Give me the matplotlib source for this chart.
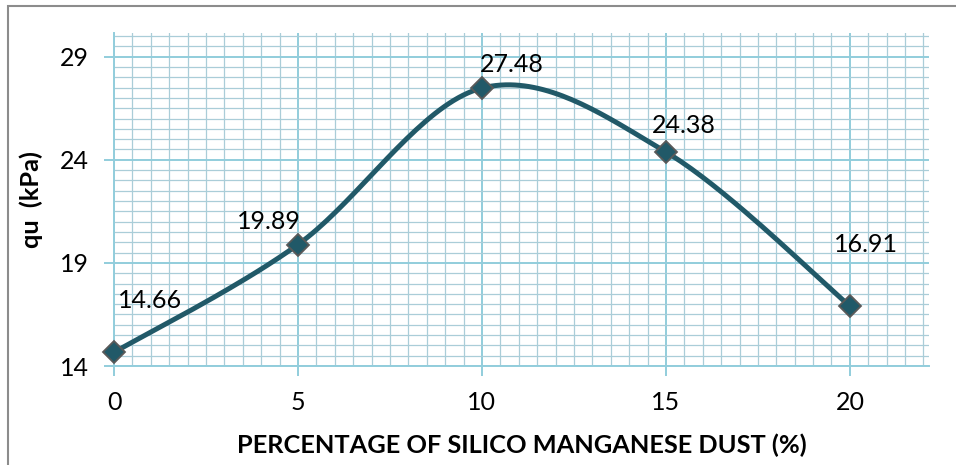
import numpy as np
import matplotlib.pyplot as plt
from matplotlib.patches import Rectangle
from matplotlib.ticker import MultipleLocator

# data
percent = [0, 5, 10, 15, 20]
qu = [14.66, 19.89, 27.48, 24.38, 16.91]
labels = ["14.66", "19.89", "27.48", "24.38", "16.91"]
# label anchor (pixels from the marker): x of text centre, baseline height
label_offsets = [(36, 44), (-29, 16), (30, 16), (18, 19), (16, 54)]

plt.rcParams['font.family'] = ['Lato', 'DejaVu Sans']


def excel_smooth(x, y, sx, sy, n=40):
    # bezier smoothing like Excel's "smoothed line", done in pixel-like space
    px = np.asarray(x, float) * sx
    py = np.asarray(y, float) * sy
    pts = np.column_stack([px, py])
    out = []
    for i in range(len(pts) - 1):
        p0 = pts[i - 1] if i > 0 else pts[i]
        p1 = pts[i]
        p2 = pts[i + 1]
        p3 = pts[i + 2] if i + 2 < len(pts) else pts[i + 1]
        c1 = p1 + (p2 - p0) / 6
        c2 = p2 - (p3 - p1) / 6
        t = np.linspace(0, 1, n)[:, None]
        seg = (1 - t) ** 3 * p1 + 3 * (1 - t) ** 2 * t * c1 + 3 * (1 - t) * t ** 2 * c2 + t ** 3 * p2
        out.append(seg if i == 0 else seg[1:])
    out = np.vstack(out)
    return out[:, 0] / sx, out[:, 1] / sy


fig = plt.figure(figsize=(9.56, 4.65), dpi=100)
fig.patches.append(Rectangle((8 / 956, -0.1), 1.2, (465 - 6) / 465 + 0.1,
                             transform=fig.transFigure, fill=False,
                             edgecolor='#8c8c8c', lw=1.5))
ax = fig.add_axes([114 / 956, 1 - 366 / 465, (929 - 114) / 956, (366 - 33) / 465])

ax.set_xlim(0, 22.15)
ax.set_ylim(14, 30.15)
ax.xaxis.set_major_locator(MultipleLocator(5))
ax.xaxis.set_minor_locator(MultipleLocator(0.5))
ax.yaxis.set_major_locator(MultipleLocator(5))
ax.yaxis.set_minor_locator(MultipleLocator(0.5))
ax.set_yticks([14, 19, 24, 29])

ax.grid(which='minor', color='#aacdd8', lw=0.9)
ax.grid(which='major', color='#92cddc', lw=1.4)
ax.set_axisbelow(True)

for s in ['top', 'right']:
    ax.spines[s].set_visible(False)
for s in ['left', 'bottom']:
    ax.spines[s].set_color('#92cddc')
    ax.spines[s].set_linewidth(1.4)
ax.tick_params(which='major', length=7.2, width=1.4, color='#92cddc',
               labelsize=18, pad=11)
ax.tick_params(which='minor', length=0)

sx, sy = 36.8, 20.6
xs, ys = excel_smooth(percent, qu, sx, sy)
ax.plot(xs, ys, color='#215968', lw=3.6, solid_capstyle='round', zorder=3)
ax.plot(percent, qu, ls='none', marker='D', ms=11, mfc='#215968',
        mec='#595959', mew=1.3, zorder=4, clip_on=False)

for x, y, t, off in zip(percent, qu, labels, label_offsets):
    ax.annotate(t, (x, y), xytext=off, textcoords='offset pixels',
                fontsize=18, ha='center', va='baseline')

ax.set_xlabel('PERCENTAGE OF SILICO MANGANESE DUST (%)', fontsize=18.3,
              fontweight='bold', labelpad=14)
ax.set_ylabel('qu  (kPa)', fontsize=18.3, fontweight='bold', labelpad=12)

fig.savefig('out.png', dpi=100)
